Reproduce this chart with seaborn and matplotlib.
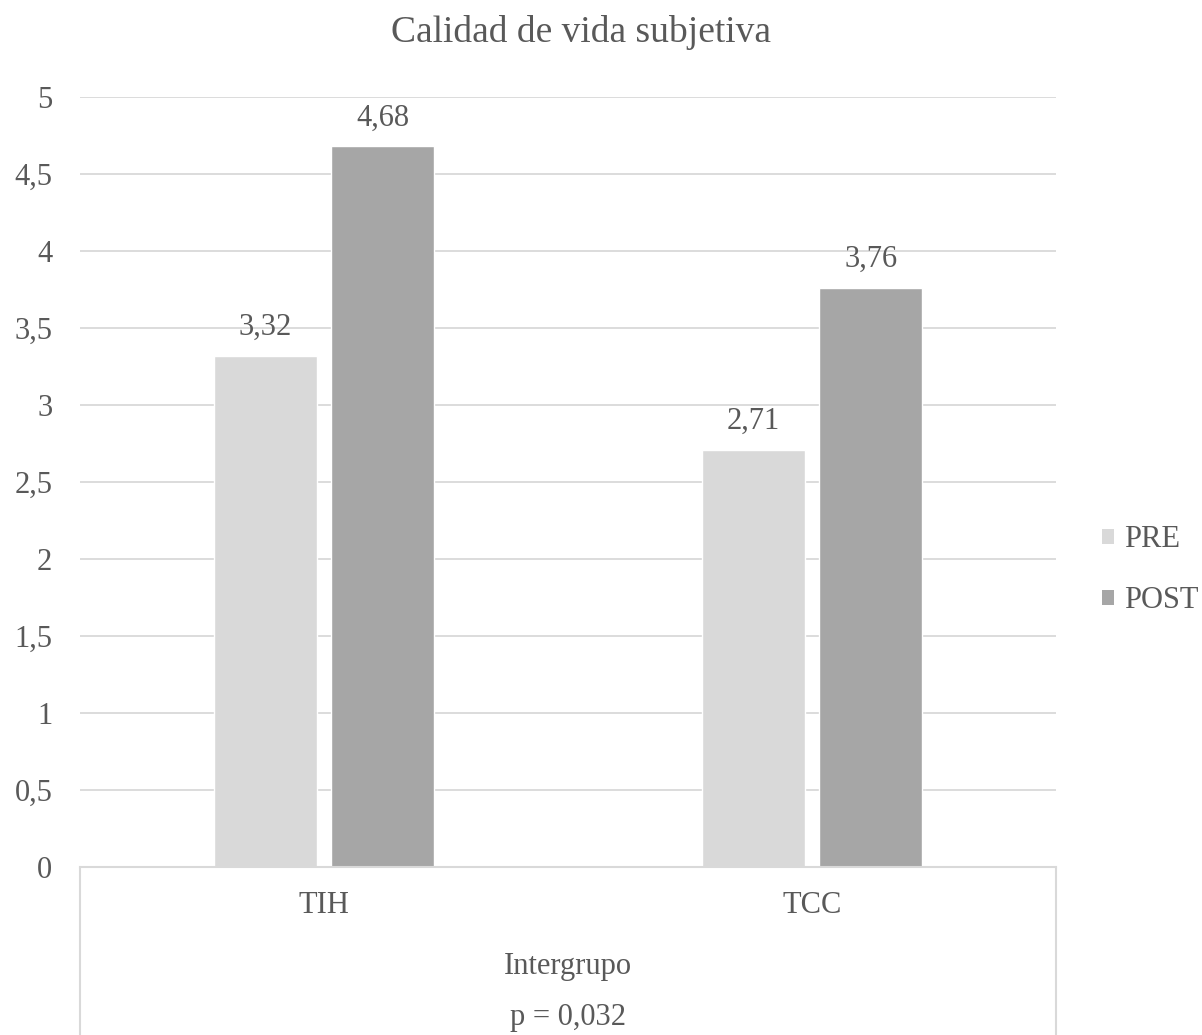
import matplotlib
matplotlib.use("Agg")
import matplotlib.pyplot as plt
from matplotlib.ticker import FuncFormatter, MultipleLocator
from matplotlib.patches import Patch
import seaborn as sns
import pandas as pd

# Data
grupos = ["TIH", "TCC"]
fases = ["PRE", "POST"]
pre_vals = [3.32, 2.71]
post_vals = [4.68, 3.76]
titulo = "Calidad de vida subjetiva"
eje_x = "Intergrupo"
nota_p = "p = 0,032"

colores = {"PRE": "#d9d9d9", "POST": "#a6a6a6"}
texto = "#595959"
linea = "#d9d9d9"
fs = 22

df = pd.DataFrame({
    "grupo": grupos * 2,
    "fase": ["PRE"] * len(grupos) + ["POST"] * len(grupos),
    "valor": pre_vals + post_vals,
})

sns.set_theme(style="white")
plt.rcParams["font.family"] = ["Liberation Serif", "DejaVu Serif"]

fig = plt.figure(figsize=(12.02, 10.35), dpi=100)
ax = fig.add_axes([0.0666, 0.1623, 0.812, 0.744])

sns.barplot(data=df, x="grupo", y="valor", hue="fase", order=grupos,
            hue_order=fases, palette=colores, width=0.4795, gap=0.12,
            saturation=1, ax=ax, legend=False, errorbar=None)

ax.set_ylim(0, 5)
ax.set_xlim(-0.5, 1.5)
ax.yaxis.set_major_locator(MultipleLocator(0.5))
ax.yaxis.set_major_formatter(FuncFormatter(
    lambda v, _: f"{v:g}".replace(".", ",")))
ax.grid(axis="y", color=linea, linewidth=1.3)
ax.set_axisbelow(True)
for s in ["left", "right", "top"]:
    ax.spines[s].set_visible(False)
ax.spines["bottom"].set_color(linea)
ax.spines["bottom"].set_linewidth(1.5)

ax.tick_params(axis="y", length=0, pad=20, labelsize=fs, labelcolor=texto)
ax.tick_params(axis="x", length=0, pad=17, labelsize=fs, labelcolor=texto)
ax.set_xlabel("")
ax.set_ylabel("")

# Value labels above the bars
for cont in ax.containers:
    ax.bar_label(cont, labels=[f"{b.get_height():.2f}".replace(".", ",")
                               for b in cont],
                 padding=10, fontsize=fs, color=texto)

# Table frame beneath the axis
for xa in (0, 1):
    ax.plot([xa, xa], [0, -0.25], transform=ax.transAxes, color=linea,
            linewidth=1.5, clip_on=False)

ax.text(0.5, -0.129, eje_x, transform=ax.transAxes, ha="center",
        va="center", fontsize=fs, color=texto)
ax.text(0.5, -0.195, nota_p, transform=ax.transAxes, ha="center",
        va="center", fontsize=fs, color=texto)

fig.text(0.4834, 0.969, titulo, ha="center", va="center", fontsize=27,
         color=texto)

# Legend
handles = [Patch(facecolor=colores[f], edgecolor="none", label=f) for f in fases]
fig.legend(handles=handles, loc="center left",
           bbox_to_anchor=(0.9168, 0.449), frameon=False, fontsize=fs,
           borderpad=0, borderaxespad=0,
           handlelength=0.4, handleheight=0.4, handletextpad=0.33,
           labelspacing=1.05, labelcolor=texto)

fig.savefig("out.png", dpi=100)
